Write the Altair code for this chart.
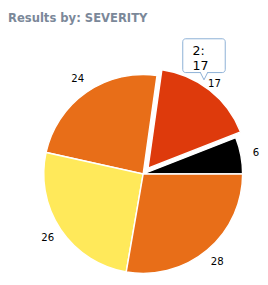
import altair as alt
import pandas as pd
import math

# ---- data ----
severity = ["1", "2", "3", "4", "5"]
counts = [6, 17, 24, 26, 28]
colors = ["#000000", "#de3a0c", "#e86e18", "#ffe95a", "#e86e18"]
exploded = "2"

df = pd.DataFrame({"severity": severity, "count": counts})
total = sum(counts)

# ---- layout (plot coordinates) ----
CX, CY = 140, 150
R = 103
LABEL_R = 119
EX_DX, EX_DY = 5, -6

theta_scale = alt.Scale(domain=[0, total], range=[math.pi / 2, math.pi / 2 - 2 * math.pi])
color_scale = alt.Scale(domain=severity, range=colors)

base = alt.Chart(df).transform_window(
    end="sum(count)", sort=[alt.SortField("severity")], frame=[None, 0]
).transform_calculate(
    start="datum.end - datum.count", mid="datum.end - datum.count / 2"
)

arc_enc = dict(
    theta=alt.Theta("start:Q", scale=theta_scale),
    theta2="end:Q",
    fill=alt.Fill("severity:N", scale=color_scale, legend=None),
)

pie = base.transform_filter(f"datum.severity != '{exploded}'").mark_arc(
    outerRadius=R, stroke="white", strokeWidth=1.5
).encode(x=alt.value(CX), y=alt.value(CY), **arc_enc)

pie_ex = base.transform_filter(f"datum.severity == '{exploded}'").mark_arc(
    outerRadius=R, stroke="white", strokeWidth=1.5
).encode(x=alt.value(CX + EX_DX), y=alt.value(CY + EX_DY), **arc_enc)

labels = base.mark_text(
    font="DejaVu Sans", fontSize=10.5, color="#000000", align="center", baseline="middle"
).encode(
    theta=alt.Theta("mid:Q", scale=theta_scale),
    radius=alt.value(LABEL_R),
    x=alt.value(CX), y=alt.value(CY),
    text="count:Q",
)

# ---- tooltip callout ----
TX, TY = 181, 10
tip_box = alt.Chart(df).transform_filter(f"datum.severity == '{exploded}'").mark_rect(
    fill="#ffffff", stroke="#8aaed4", strokeWidth=1, cornerRadius=3
).encode(x=alt.value(TX), x2=alt.value(TX + 44), y=alt.value(TY), y2=alt.value(TY + 35))

tip_ptr = alt.Chart(df).transform_filter(f"datum.severity == '{exploded}'").mark_point(
    shape="M -1 -1 L 0 1 L 1 -1", filled=False, fill="#ffffff", fillOpacity=1,
    stroke="#8aaed4", strokeWidth=1, size=64, opacity=1
).encode(x=alt.value(TX + 22), y=alt.value(TY + 38.5))

tip_text = alt.Chart(df).transform_filter(f"datum.severity == '{exploded}'").transform_calculate(
    tip="datum.severity + ':\\n' + datum.count"
).mark_text(
    font="DejaVu Sans", fontSize=13, lineBreak="\n", lineHeight=15,
    align="left", baseline="top", color="#000000"
).encode(x=alt.value(TX + 10), y=alt.value(TY + 7), text="tip:N")

chart = alt.layer(pie, pie_ex, labels, tip_box, tip_ptr, tip_text).properties(
    width=252,
    height=250,
    padding=0,
    title=alt.TitleParams(
        "Results by: SEVERITY", anchor="start", font="DejaVu Sans", fontSize=12,
        fontWeight="bold", color="#7b8899", offset=4
    ),
).configure_view(stroke=None)

chart.save("out.html", embed_options={"renderer": "svg", "actions": False})
